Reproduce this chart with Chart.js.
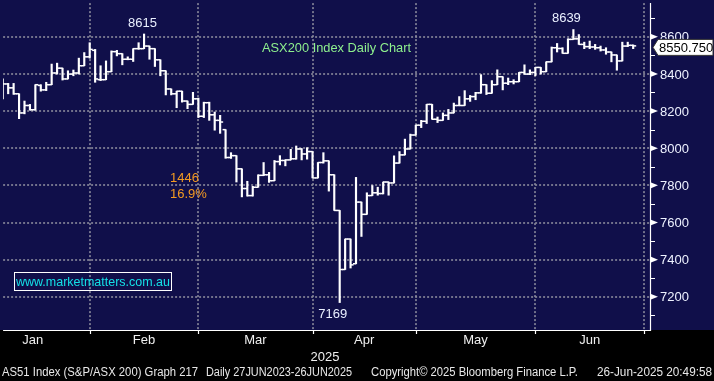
<!DOCTYPE html>
<html>
<head>
<meta charset="utf-8">
<script src="https://cdn.jsdelivr.net/npm/chart.js@4.4.1/dist/chart.umd.min.js"></script>
<style>
html,body{margin:0;padding:0;background:#000;}
canvas{display:block;}
</style>
</head>
<body>
<canvas id="c" width="714" height="381"></canvas>
<script>
// ---- DATA ----
// Trading sessions shown (2025). The first one (Jan 8) is the 5th session of the year.
const firstSession = 4;
const dates = [
 '01-08','01-09','01-10','01-13','01-14','01-15','01-16','01-17','01-20','01-21','01-22','01-23','01-24','01-28','01-29','01-30','01-31',
 '02-03','02-04','02-05','02-06','02-07','02-10','02-11','02-12','02-13','02-14','02-17','02-18','02-19','02-20','02-21','02-24','02-25','02-26','02-27','02-28',
 '03-03','03-04','03-05','03-06','03-07','03-10','03-11','03-12','03-13','03-14','03-17','03-18','03-19','03-20','03-21','03-24','03-25','03-26','03-27','03-28','03-31',
 '04-01','04-02','04-03','04-04','04-07','04-08','04-09','04-10','04-11','04-14','04-15','04-16','04-17','04-22','04-23','04-24','04-28','04-29','04-30',
 '05-01','05-02','05-05','05-06','05-07','05-08','05-09','05-12','05-13','05-14','05-15','05-16','05-19','05-20','05-21','05-22','05-23','05-26','05-27','05-28','05-29','05-30',
 '06-02','06-03','06-04','06-05','06-06','06-10','06-11','06-12','06-13','06-16','06-17','06-18','06-19','06-20','06-23','06-24','06-25','06-26'
];
const opens = [
 8300,8346,8325,8293,8190,8230,8207,8338,8314,8342,8405,8431,8373,8399,8405,8444,8492,
 8527,8369,8369,8412,8520,8509,8479,8479,8536,8536,8550,8536,8476,8417,8319,8293,8307,8254,8236,8266,
 8172,8245,8180,8150,8100,7950,7960,7889,7783,7745,7790,7854,7857,7825,7928,7934,7937,7943,7996,7969,7982,
 7840,7923,7932,7857,7665,7347,7511,7378,7710,7644,7745,7760,7756,7818,7813,7920,7964,7996,8071,
 8124,8145,8236,8156,8150,8177,8190,8230,8230,8266,8278,8298,8342,8296,8342,8385,8350,8358,8358,8408,8399,8408,
 8435,8412,8465,8541,8537,8511,8586,8589,8559,8547,8545,8541,8529,8518,8502,8470,8550,8554
];
const highs = [
 8373,8349,8349,8293,8254,8236,8342,8342,8355,8453,8458,8431,8417,8421,8485,8515,8568,
 8532,8444,8470,8524,8527,8509,8492,8536,8568,8615,8550,8536,8476,8417,8319,8307,8307,8254,8301,8270,
 8248,8248,8195,8177,8100,7976,7960,7889,7822,7795,7857,7923,7870,7934,7960,7937,7994,8012,7998,8003,7982,
 7923,7976,7932,7857,7665,7511,7511,7843,7710,7760,7799,7790,7818,7818,7959,7982,8049,8076,8124,
 8150,8236,8236,8168,8190,8209,8243,8278,8310,8284,8301,8396,8342,8364,8422,8385,8378,8369,8408,8449,8422,8435,
 8435,8465,8545,8564,8541,8589,8639,8612,8571,8577,8559,8550,8541,8518,8502,8571,8571,8556
];
const lows = [
 8266,8293,8290,8159,8185,8205,8205,8307,8310,8342,8399,8367,8373,8390,8399,8444,8485,
 8355,8364,8369,8412,8497,8449,8476,8467,8533,8536,8479,8440,8390,8287,8287,8218,8248,8213,8236,8165,
 8165,8150,8097,8080,7946,7945,7818,7738,7742,7742,7790,7852,7816,7825,7910,7905,7937,7941,7937,7941,7840,
 7840,7920,7769,7665,7169,7347,7355,7378,7525,7644,7745,7747,7754,7747,7813,7920,7964,7996,8071,
 8111,8133,8156,8138,8150,8154,8190,8230,8230,8252,8261,8296,8289,8296,8342,8314,8342,8346,8358,8399,8396,8390,
 8399,8412,8465,8518,8511,8511,8586,8559,8536,8536,8532,8523,8506,8465,8420,8470,8547,8536
];
const closes = [
 8346,8325,8293,8190,8230,8207,8342,8314,8342,8405,8431,8373,8399,8405,8444,8492,8532,
 8373,8369,8412,8520,8509,8479,8479,8536,8536,8550,8536,8476,8417,8319,8293,8307,8254,8236,8266,8172,
 8245,8180,8150,8141,7950,7960,7889,7783,7745,7790,7854,7857,7825,7928,7934,7937,7943,7996,7969,7982,7840,
 7923,7932,7857,7665,7347,7511,7372,7710,7644,7745,7760,7756,7818,7813,7920,7964,7996,8071,8124,
 8145,8236,8156,8150,8177,8190,8230,8230,8266,8278,8298,8342,8296,8342,8385,8350,8358,8358,8408,8399,8408,8435,
 8412,8465,8541,8537,8511,8586,8589,8559,8547,8545,8541,8529,8518,8502,8470,8550,8554,8551
];
const lastPrice = '8550.750';
// Month labels and the session index of the last session of each month (-1 = before Jan 2)
const months = ['Jan','Feb','Mar','Apr','May','Jun'];
const monthEnds = [-1, 20, 40, 61, 80, 102, 122];
const yearLabel = '2025';
const yTicks = [7200, 7400, 7600, 7800, 8000, 8200, 8400, 8600];
const yMinorTicks = [7100, 7300, 7500, 7700, 7900, 8100, 8300, 8500, 8700];
const title = 'ASX200 Index Daily Chart';
const moveLabel = '1446';
const movePct = '16.9%';
const website = 'www.marketmatters.com.au';
const footerLeft1 = 'AS51 Index (S&P/ASX 200) Graph 217';
const footerLeft2 = 'Daily 27JUN2023-26JUN2025';
const footerCopy = 'Copyright\u00A9 2025 Bloomberg Finance L.P.';
const footerTime = '26-Jun-2025 20:49:58';

// ---- CHART ----
const NAVY = '#100f4a';
const FONT = '"Liberation Sans", Arial, sans-serif';
const tickOff = 0.26;

const xs = dates.map((d, k) => firstSession + k);

const bgPlugin = {
  id: 'bbg',
  beforeDraw(chart) {
    const c = chart.ctx, a = chart.chartArea;
    c.save();
    c.fillStyle = '#000';
    c.fillRect(0, 0, chart.width, chart.height);
    c.fillStyle = NAVY;
    c.fillRect(0, 0, chart.width, a.bottom);
    c.restore();
  },
  beforeDatasetsDraw(chart) {
    const c = chart.ctx, a = chart.chartArea, xS = chart.scales.x, yS = chart.scales.y;
    c.save();
    c.strokeStyle = '#8a8a9c';
    c.lineWidth = 1.6;
    c.setLineDash([2, 2]);
    yTicks.forEach(v => {
      const y = Math.round(yS.getPixelForValue(v));
      c.beginPath(); c.moveTo(a.left, y); c.lineTo(a.right, y); c.stroke();
    });
    monthEnds.slice(1).forEach(m => {
      const x = Math.round(xS.getPixelForValue(m));
      c.beginPath(); c.moveTo(x, a.top); c.lineTo(x, a.bottom); c.stroke();
    });
    c.restore();
  },
  afterDatasetsDraw(chart) {
    const c = chart.ctx, a = chart.chartArea, xS = chart.scales.x, yS = chart.scales.y;
    c.save();
    // axes
    c.strokeStyle = '#ffffff';
    c.lineWidth = 1.2;
    c.beginPath();
    c.moveTo(a.left, a.bottom + 0.5); c.lineTo(a.right, a.bottom + 0.5);
    c.moveTo(a.right - 0.5, a.top); c.lineTo(a.right - 0.5, a.bottom + 1);
    c.stroke();
    // month ticks
    c.beginPath();
    monthEnds.slice(1).forEach(m => {
      const x = Math.round(xS.getPixelForValue(m)) + 0.5;
      c.moveTo(x, a.bottom); c.lineTo(x, a.bottom + 4);
    });
    // minor y ticks
    yMinorTicks.forEach(v => {
      const y = Math.round(yS.getPixelForValue(v)) + 0.5;
      c.moveTo(a.right, y); c.lineTo(a.right + 4, y);
    });
    c.stroke();
    // major y ticks (triangles) and labels
    c.fillStyle = '#ffffff';
    c.font = '13px ' + FONT;
    c.textBaseline = 'middle';
    c.textAlign = 'left';
    yTicks.forEach(v => {
      const y = yS.getPixelForValue(v);
      c.fillStyle = '#ffffff';
      c.beginPath();
      c.moveTo(a.right, y - 2.8); c.lineTo(a.right + 7, y); c.lineTo(a.right, y + 2.8); c.closePath();
      c.fill();
      c.fillStyle = '#eef2ff';
      c.fillText(String(v), a.right + 9, y + 1);
    });
    // last price label
    const ly = yS.getPixelForValue(closes[closes.length - 1]) + 1.5;
    c.fillStyle = '#ffffff';
    c.strokeStyle = '#333';
    c.lineWidth = 1;
    c.beginPath();
    c.moveTo(a.right + 2, ly);
    c.lineTo(a.right + 7, ly - 8);
    c.lineTo(chart.width - 1, ly - 8);
    c.lineTo(chart.width - 1, ly + 8);
    c.lineTo(a.right + 7, ly + 8);
    c.closePath();
    c.fill();
    c.stroke();
    c.fillStyle = '#000000';
    c.font = '13px ' + FONT;
    c.fillText(lastPrice, a.right + 8, ly + 1);

    // month labels
    c.fillStyle = '#f0f0f0';
    c.textAlign = 'center';
    c.font = '13px ' + FONT;
    months.forEach((m, k) => {
      const x0 = xS.getPixelForValue(monthEnds[k]);
      const x1 = xS.getPixelForValue(monthEnds[k + 1]);
      c.fillText(m, (x0 + x1) / 2, a.bottom + 10.5);
    });
    c.fillText(yearLabel, 325, a.bottom + 27);

    // footer
    c.font = '12px ' + FONT;
    c.textAlign = 'left';
    c.fillStyle = '#e8e8e8';
    const fit = (t, x, y, w) => {
      const m = c.measureText(t).width;
      c.save();
      c.translate(x, y);
      c.scale(w / m, 1);
      c.fillText(t, 0, 0);
      c.restore();
    };
    fit(footerLeft1, 2, 373, 196);
    fit(footerLeft2, 206, 373, 146);
    fit(footerCopy, 371, 373, 207);
    fit(footerTime, 597, 373, 115);

    // annotations anchored on data
    let iMaxEarly = 0, iMaxLate = 0, iMin = 0;
    highs.forEach((h, k) => {
      if (k < 60 && h > highs[iMaxEarly]) iMaxEarly = k;
      if (k >= 60 && (iMaxLate < 60 || h > highs[iMaxLate])) iMaxLate = k;
    });
    lows.forEach((l, k) => { if (l < lows[iMin]) iMin = k; });
    c.font = '13px ' + FONT;
    c.textAlign = 'center';
    c.fillStyle = '#eaf0ff';
    c.fillText(String(highs[iMaxEarly]), xS.getPixelForValue(xs[iMaxEarly]) - 1.5, yS.getPixelForValue(highs[iMaxEarly]) - 11);
    c.fillText(String(highs[iMaxLate]), xS.getPixelForValue(xs[iMaxLate]) - 7, yS.getPixelForValue(highs[iMaxLate]) - 11.5);
    c.fillText(String(lows[iMin]), xS.getPixelForValue(xs[iMin]) - 7, yS.getPixelForValue(lows[iMin]) + 12);

    // title
    c.textAlign = 'left';
    c.fillStyle = '#8ef08e';
    fit(title, 262, 48, 149);
    // move annotation
    c.fillStyle = '#f39a22';
    c.fillText(moveLabel, 170, 178);
    c.fillText(movePct, 170, 194);
    // website box
    c.strokeStyle = '#ffffff';
    c.lineWidth = 1;
    c.strokeRect(14.5, 272.5, 157, 18);
    c.fillStyle = '#14e0e6';
    fit(website, 16, 282, 154);
    c.restore();
  }
};

new Chart(document.getElementById('c'), {
  type: 'bar',
  data: {
    datasets: [
      {
        type: 'bar',
        data: xs.map((x, k) => ({ x: x, y: [lows[k], highs[k]] })),
        backgroundColor: '#ffffff',
        borderWidth: 0,
        barThickness: 1.5,
        grouped: false
      },
      {
        type: 'scatter',
        data: xs.map((x, k) => ({ x: x - tickOff, y: opens[k] })),
        pointStyle: 'line',
        pointRadius: 1.6,
        pointHoverRadius: 1.6,
        borderColor: '#ffffff',
        borderWidth: 1.5
      },
      {
        type: 'scatter',
        data: xs.map((x, k) => ({ x: x + tickOff, y: closes[k] })),
        pointStyle: 'line',
        pointRadius: 1.6,
        pointHoverRadius: 1.6,
        borderColor: '#ffffff',
        borderWidth: 1.5
      }
    ]
  },
  options: {
    responsive: false,
    animation: false,
    events: [],
    layout: { padding: { left: 0, top: 0, right: 63, bottom: 51 } },
    scales: {
      x: { type: 'linear', min: 4.065, max: 123.28, display: false, offset: false },
      y: { type: 'linear', min: 7021.3, max: 8781.3, display: false }
    },
    plugins: { legend: { display: false }, tooltip: { enabled: false } }
  },
  plugins: [bgPlugin]
});
</script>
</body>
</html>
